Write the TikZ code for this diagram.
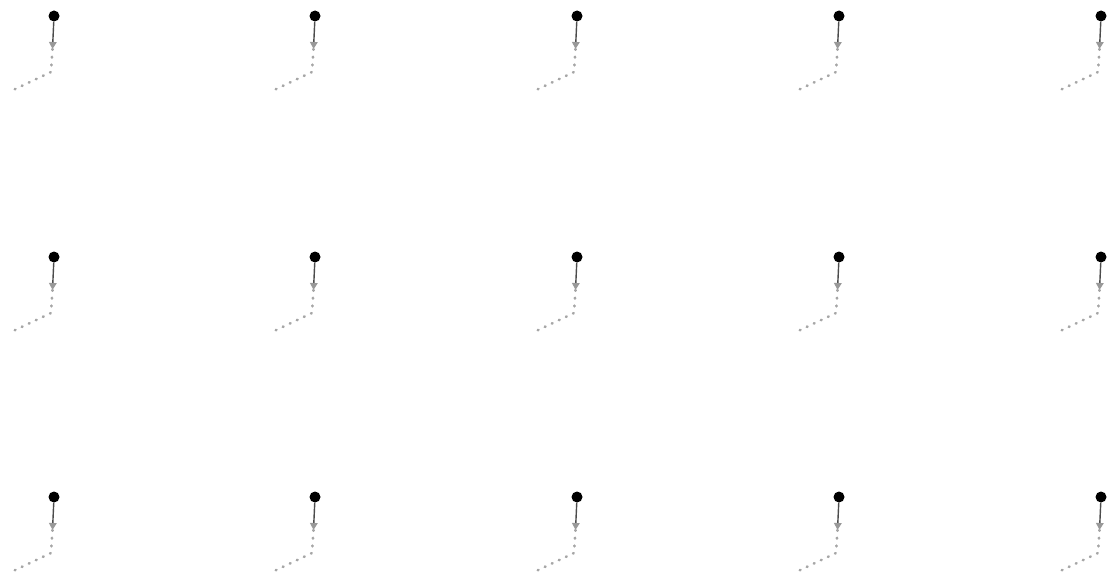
\documentclass[tikz,border=0pt]{standalone}
\usetikzlibrary{arrows.meta}
\begin{document}
\begin{tikzpicture}[x=1pt,y=-1pt,
  pt/.style={circle,fill=black,inner sep=0pt,minimum size=11pt},
  vec/.style={line width=1.4pt,black!70,-{Triangle[width=7.5pt,length=7pt,color=gray!80]}},
  trail/.style={line width=2.6pt,gray!70,dash pattern=on 0.8pt off 7pt,line cap=round}]
\useasboundingbox (0,0) rectangle (1110,583);
\foreach \x [count=\i] in {54,315,577,839,1101}{
  \foreach \y [count=\j] in {16,257,497}{
    \node[pt] (p-\i-\j) at (\x,\y) {};
    \coordinate (a-\i-\j) at (\x-1.5,\y+33);
    \coordinate (c-\i-\j) at (\x-3,\y+56);
    \coordinate (e-\i-\j) at (\x-45,\y+76);
    \draw[vec] (p-\i-\j) -- (a-\i-\j);
    \draw[trail] (a-\i-\j) -- (c-\i-\j) -- (e-\i-\j);
  }
}
\end{tikzpicture}
\end{document}
